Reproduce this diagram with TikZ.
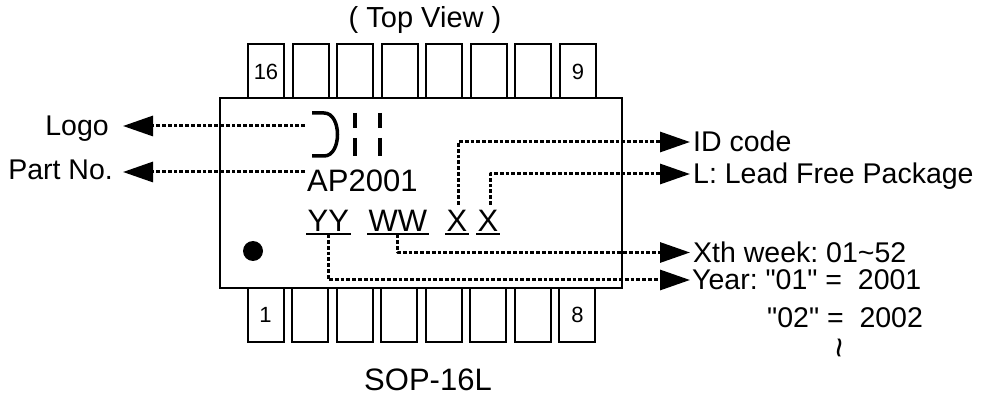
\documentclass[tikz,border=0pt]{standalone}
\usepackage{fontspec}
\setmainfont{Liberation Sans}
\usetikzlibrary{arrows.meta}
\tikzset{
    pinbox/.style={draw,line width=2pt,minimum width=36pt,minimum height=54pt,inner sep=0pt,font=\fontsize{22}{24}\selectfont},
    marktext/.style={inner sep=0pt,font=\fontsize{31}{33}\selectfont},
    marktag/.style={marktext,inner xsep=1.5pt,text height=27pt,text depth=2pt},
    calltext/.style={inner sep=0pt,text height=20pt,text depth=0pt,font=\fontsize{28.5}{30}\selectfont\frenchspacing},
    leader/.style={line width=3pt,line join=round,dash pattern=on 3.8pt off 2pt,-{Triangle[length=30pt,width=20pt]}},
    logopen/.style={line width=4pt}
}
\begin{document}
\begin{tikzpicture}[x=1pt,y=-1pt]
    \useasboundingbox (0,0) rectangle (983,398);
    % package with its pins
    \foreach \i/\n/\m in {0/16/1, 1//, 2//, 3//, 4//, 5//, 6//, 7/9/8}{
        \node[pinbox] (top\i) at (266+\i*44.57,71.5) {\n};
        \node[pinbox] (bot\i) at (265.5+\i*44.57,315) {\m};
    }
    \node[draw,line width=2.5pt,minimum width=402pt,minimum height=190pt,inner sep=0pt] (body) at (421,193) {};
    \fill (253,251) circle (10);
    % logo mark
    \coordinate (logomark) at (305,126);
    \draw[line width=3.5pt] (312,113) -- (324,113) .. controls (342,113) and (342,156) .. (324,156) -- (312,156);
    \draw[logopen] (355,113) -- (355,128) (355,138) -- (355,156);
    \draw[logopen] (380,113) -- (380,128) (380,138) -- (380,156);
    % marking
    \node[marktext,anchor=base west] (apnum) at (307,192) {AP2001};
    \node[marktag,anchor=base west] (yy) at (306,232) {YY};
    \node[marktag,anchor=base west] (ww) at (367,232) {WW};
    \node[marktag,anchor=base west] (xid) at (445,232) {X};
    \node[marktag,anchor=base west] (xlf) at (476,232) {X};
    \foreach \m in {yy,ww,xid,xlf}{
        \draw[line width=2.5pt] (\m.south west) -- (\m.south east);
    }
    % callouts
    \node[calltext,anchor=east,inner xsep=14pt] (logo) at (123,126) {Logo};
    \node[calltext,anchor=east,inner xsep=10pt,text height=16pt] (partno) at (123,172) {Part No.};
    \node[calltext,anchor=west] (idcode) at (690,142) {\hspace{3pt}ID code};
    \node[calltext,anchor=west] (leadfree) at (690,174) {\hspace{3pt}L: Lead Free Package};
    \node[calltext,anchor=west] (week) at (690,252.5) {\hspace{3pt}Xth week: 01\textasciitilde52};
    \node[calltext,anchor=west] (year) at (690,280) {\hspace{2pt}Year: \textquotedbl01\textquotedbl{} =\ \ 2001};
    \node[calltext,anchor=base west] (nextyear) at (767,327) {\textquotedbl02\textquotedbl{} =\ \ 2002};
    \node[inner sep=0pt,rotate=90,font=\fontsize{36}{36}\selectfont] (moreyears) at (844.5,347.5) {\textasciitilde};
    \draw[leader] (logomark) -- (logo.east);
    \draw[leader] ([xshift=-2pt]apnum.west |- partno.east) -- (partno.east);
    \draw[leader] ([xshift=1pt]xid.north) |- (idcode.west);
    \draw[leader] ([xshift=2pt]xlf.north) |- (leadfree.west);
    \draw[leader] (ww.south) |- (week.west);
    \draw[leader] (yy.south) |- (year.west);
    % captions
    \node[anchor=base,inner sep=0pt,font=\fontsize{29}{30}\selectfont] (topview) at (425,28) {( Top View )};
    \node[anchor=base,inner sep=0pt,font=\fontsize{31}{33}\selectfont] (pkgname) at (428,390) {SOP-16L};
\end{tikzpicture}
\end{document}
